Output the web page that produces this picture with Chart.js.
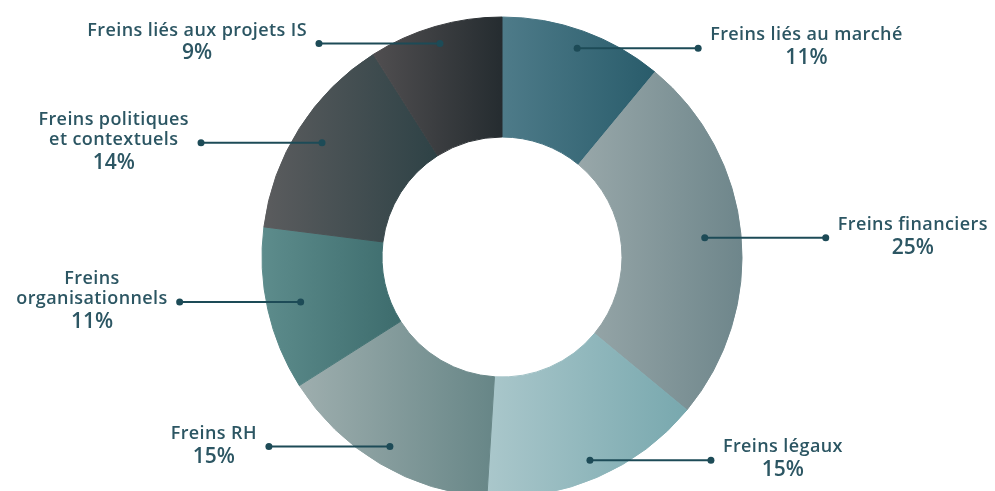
<!DOCTYPE html>
<html lang="fr">
<head>
<meta charset="utf-8">
<title>Freins</title>
<script src="https://cdn.jsdelivr.net/npm/chart.js@4"></script>
<style>
  html, body { margin: 0; padding: 0; background: #fff; overflow: hidden; }
  #wrap { width: 995px; height: 514px; }
</style>
</head>
<body>
<div id="wrap"><canvas id="freinsChart" width="995" height="514"></canvas></div>
<script>
// categories, clockwise from 12 o'clock (multi-line labels as arrays)
const categories = [
  ["Freins liés au marché"],
  ["Freins financiers"],
  ["Freins légaux"],
  ["Freins RH"],
  ["Freins", "organisationnels"],
  ["Freins politiques", "et contextuels"],
  ["Freins liés aux projets IS"],
];
const shares = [11, 25, 15, 15, 11, 14, 9]; // %

// left -> right gradient stops per slice
const lightColors = ["#4e7b89", "#98a7a9", "#aac7cb", "#9eaeae", "#5d8c8c", "#5b5c5e", "#504e50"];
const darkColors  = ["#295c6b", "#6e868b", "#78a8ae", "#678687", "#3d6c6d", "#2e4246", "#252c30"];

const textColor = "#2c5663";
const lineColor = "#1d4b57";
const OUTER = 240;
const INNER = 120;

// horizontal gradient spanning each slice's own x-extent
function sliceGradient(context) {
  const chart = context.chart;
  const i = context.dataIndex;
  const area = chart.chartArea;
  if (!area) return lightColors[i];
  const cx = (area.left + area.right) / 2;
  const total = shares.reduce((a, b) => a + b, 0);
  const before = shares.slice(0, i).reduce((a, b) => a + b, 0);
  const a0 = -Math.PI / 2 + 2 * Math.PI * before / total;
  const a1 = a0 + 2 * Math.PI * shares[i] / total;
  let minX = Infinity, maxX = -Infinity;
  for (let k = 0; k <= 60; k++) {
    const a = a0 + (a1 - a0) * k / 60;
    for (const r of [INNER, OUTER]) {
      const px = cx + r * Math.cos(a);
      minX = Math.min(minX, px);
      maxX = Math.max(maxX, px);
    }
  }
  const g = chart.ctx.createLinearGradient(minX, 0, maxX, 0);
  g.addColorStop(0, lightColors[i]);
  g.addColorStop(1, darkColors[i]);
  return g;
}

// leader lines with dots and labels
const leaderLabels = {
  id: "leaderLabels",
  afterDatasetsDraw(chart) {
    const ctx = chart.ctx;
    const meta = chart.getDatasetMeta(0);
    meta.data.forEach((el, i) => {
      const mid = (el.startAngle + el.endAngle) / 2;
      // dots sit a bit deeper in the ring near the top and bottom
      const frac = 0.68 + 0.18 * Math.abs(Math.sin(mid));
      const r = el.innerRadius + frac * (el.outerRadius - el.innerRadius);
      const px = el.x + r * Math.cos(mid);
      const py = el.y + r * Math.sin(mid);
      const side = Math.cos(mid) >= 0 ? 1 : -1;
      const ox = px + side * 121;

      ctx.save();
      ctx.strokeStyle = lineColor;
      ctx.fillStyle = lineColor;
      ctx.lineWidth = 2;
      ctx.beginPath();
      ctx.moveTo(px, py);
      ctx.lineTo(ox, py);
      ctx.stroke();
      [px, ox].forEach(dx => {
        ctx.beginPath();
        ctx.arc(dx, py, 3.5, 0, Math.PI * 2);
        ctx.fill();
      });

      const lines = categories[i];
      ctx.font = "600 18px 'Open Sans'";
      ctx.letterSpacing = "0.4px";
      let w = 0;
      lines.forEach(t => { w = Math.max(w, ctx.measureText(t).width); });
      const cx = ox + side * (12 + w / 2);
      const ys = lines.map((t, k) => k * 20);
      const pctY = ys[ys.length - 1] + 23;
      const shift = py - pctY / 2 - 1.5;

      ctx.fillStyle = textColor;
      ctx.textAlign = "center";
      ctx.textBaseline = "middle";
      lines.forEach((t, k) => ctx.fillText(t, cx, ys[k] + shift));
      ctx.font = "600 21px 'Open Sans'";
      ctx.letterSpacing = "0px";
      ctx.fillText(shares[i] + "%", cx, pctY + shift);
      ctx.restore();
    });
  },
};

const chart = new Chart(document.getElementById("freinsChart").getContext("2d"), {
  type: "doughnut",
  data: {
    labels: categories.map(l => l.join(" ")),
    datasets: [
      {
        data: shares,
        backgroundColor: sliceGradient,
        borderColor: sliceGradient, // same fill on the edge hides seams between slices
        borderWidth: 1,
      },
    ],
  },
  options: {
    responsive: false,
    animation: false,
    radius: OUTER,
    cutout: (INNER / OUTER * 100) + "%",
    layout: { padding: { left: 9 } },
    plugins: {
      legend: { display: false },
      tooltip: { enabled: false },
    },
  },
  plugins: [leaderLabels],
});
</script>
</body>
</html>
